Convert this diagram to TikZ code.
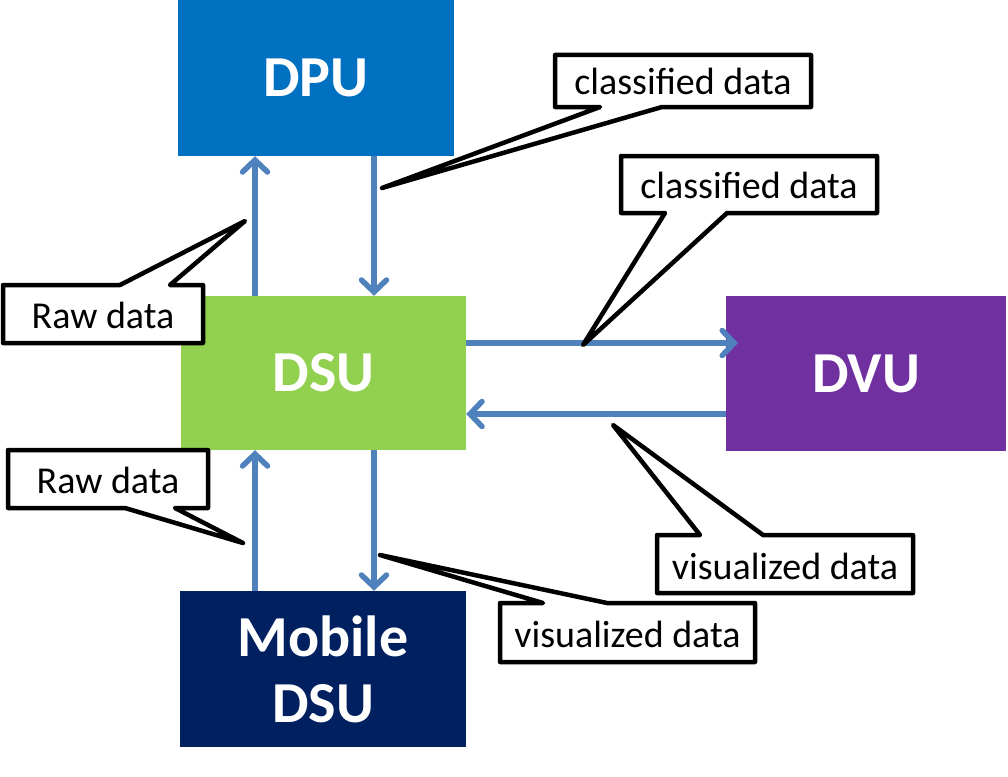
\documentclass[tikz,border=0pt]{standalone}
\usepackage{fontspec}
\setmainfont{Carlito}
\usetikzlibrary{arrows.meta}
\definecolor{dpuc}{HTML}{0070C0}
\definecolor{dsuc}{HTML}{92D050}
\definecolor{dvuc}{HTML}{7030A0}
\definecolor{mobc}{HTML}{002060}
\definecolor{arrc}{HTML}{4F81BD}
\tikzset{
  unit/.style={rectangle, inner sep=0pt, text=white, font=\fontsize{58}{66}\selectfont\bfseries, align=center},
  arr/.style={draw=arrc, line width=5.5pt, -{Straight Barb[length=12pt, width=25pt, line cap=round, line width=5.5pt]}},
  callbox/.style={draw=black, fill=white, line width=4.5pt, line join=round},
  calltext/.style={inner sep=0pt, font=\fontsize{38}{44}\selectfont},
}
\begin{document}
\begin{tikzpicture}[x=1pt,y=-1pt]
\useasboundingbox (0,0) rectangle (1008,776);
% units
\node[unit, fill=dpuc, minimum width=276pt, minimum height=156pt] (dpu) at (316,78) {DPU};
\node[unit, fill=dsuc, minimum width=285pt, minimum height=154pt] (dsu) at (323.5,373) {DSU};
\node[unit, fill=dvuc, minimum width=280pt, minimum height=155pt] (dvu) at (866,373.5) {DVU};
\node[unit, fill=mobc, minimum width=286pt, minimum height=156pt] (mob) at (323,669) {Mobile\\DSU};
% guide coordinates
\coordinate (xL) at (255,0);
\coordinate (xR) at (374,0);
\coordinate (yT) at (0,343);
\coordinate (yB) at (0,414);
\coordinate (tipR) at (738,343);
% arrows
\draw[arr] (dsu.north -| xL) -- (dpu.south -| xL);
\draw[arr] (dpu.south -| xR) -- (dsu.north -| xR);
\draw[arr] (dsu.east |- yT) -- (tipR);
\draw[arr] (dvu.west |- yB) -- (dsu.east |- yB);
\draw[arr] (mob.north -| xL) -- (dsu.south -| xL);
\draw[arr] (dsu.south -| xR) -- (mob.north -| xR);
% callouts
\draw[callbox] (555,55) -- (811,55) -- (811,107) -- (662,107) -- (382,188) -- (600,107) -- (555,107) -- cycle;
\node[calltext] (cd1) at (683,81) {classified data};
\draw[callbox] (621,156) -- (877,156) -- (877,213) -- (727,213) -- (583,345) -- (665,213) -- (621,213) -- cycle;
\node[calltext] (cd2) at (749,185) {classified data};
\draw[callbox] (3,285) -- (120,285) -- (245,221) -- (170,285) -- (203,285) -- (203,343) -- (3,343) -- cycle;
\node[calltext] (rd1) at (103,315) {Raw data};
\draw[callbox] (8,450) -- (208,450) -- (208,508) -- (175,508) -- (243,543) -- (125,508) -- (8,508) -- cycle;
\node[calltext] (rd2) at (108,480) {Raw data};
\draw[callbox] (500,603) -- (543,603) -- (380,555) -- (607,603) -- (755,603) -- (755,662) -- (500,662) -- cycle;
\node[calltext] (vd1) at (627.5,634) {visualized data};
\draw[callbox] (657,535) -- (700,535) -- (613,425) -- (763,535) -- (913,535) -- (913,593) -- (657,593) -- cycle;
\node[calltext] (vd2) at (785,566) {visualized data};
\end{tikzpicture}
\end{document}
